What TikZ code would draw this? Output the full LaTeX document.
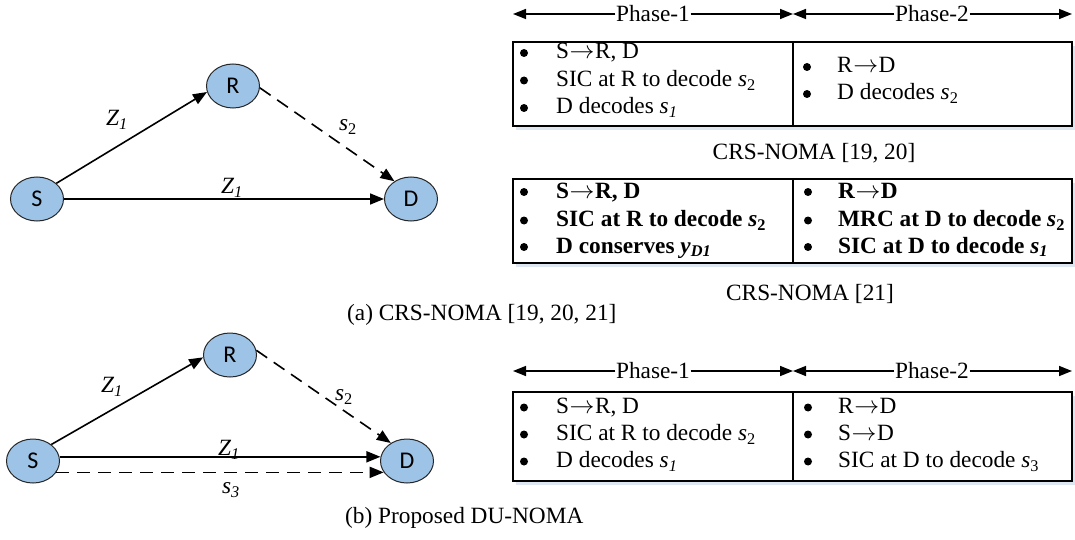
\documentclass[tikz,border=0pt]{standalone}
\usepackage{fontspec}
\setmainfont{Liberation Serif}
\newfontfamily\stationfont{Carlito}
\usetikzlibrary{arrows.meta,shapes.geometric}

\definecolor{nodefill}{RGB}{157,195,230}
\definecolor{boxshade}{RGB}{222,230,242}

\newcommand\tabfont{\fontsize{23.3}{27}\selectfont}
\newcommand\sv[2]{\textit{#1}\textsubscript{#2}}
\newcommand\svi[2]{\textit{#1\textsubscript{#2}}}
\newcommand\goes{\kern0.5pt$\rightarrow$\kern0.5pt}

\tikzset{
  station/.style={ellipse, draw=black!85, line width=1pt, fill=nodefill,
    minimum width=53pt, minimum height=44pt, inner sep=0pt,
    font=\stationfont\fontsize{24}{24}\selectfont},
  link/.style={line width=1.6pt, -{Triangle[length=14pt,width=11pt]}},
  dashlink/.style={link, dash pattern=on 13pt off 8pt},
  lbl/.style={inner sep=0pt, font=\tabfont\itshape},
  phasearrow/.style={line width=1.5pt, -{Triangle[length=13pt,width=10pt]}},
  phasetext/.style={inner sep=0.5pt, font=\tabfont},
  cellbox/.style={draw, line width=2pt},
  celldiv/.style={line width=1.5pt},
  shade/.style={fill=boxshade},
  dot/.style={circle, fill=black, inner sep=0pt, minimum size=8pt},
  item/.style={anchor=base west, inner sep=0pt, font=\tabfont},
  bolditem/.style={item, font=\tabfont\bfseries},
  caption/.style={anchor=base west, inner sep=0pt, font=\tabfont},
  title/.style={anchor=base, inner sep=0pt, font=\tabfont},
}

\begin{document}
\begin{tikzpicture}[x=1pt,y=-1pt]
\useasboundingbox (0,0) rectangle (1075,540);

% ---------- (a) relay network ----------
\node[station] (Sa) at (37,199) {S};
\node[station] (Ra) at (233,86) {R};
\node[station] (Da) at (411,199) {D};
\draw[link] (Sa.39) -- (Ra.193);
\draw[link] (Sa.east) -- (Da.west);
\draw[dashlink] (Ra.-4) -- (Da.133);
\node[lbl] (za1) at (117,120) {Z\textsubscript{1}};
\node[lbl] (za2) at (232,188) {Z\textsubscript{1}};
\node[lbl] (sa2) at (348,127) {s\textsubscript{\upshape 2}};

% ---------- (b) relay network ----------
\node[station] (Sb) at (33,461) {S};
\node[station] (Rb) at (230,355) {R};
\node[station] (Db) at (407,461) {D};
\draw[link] (Sb.42) -- (Rb.185);
\draw[link] (Sb.9) -- (Db.171);
\draw[dashlink] (Sb.-26) -- (Db.206);
\draw[dashlink] (Rb.10) -- (Db.132);
\node[lbl] (zb1) at (112,387) {Z\textsubscript{1}};
\node[lbl] (zb2) at (229,450) {Z\textsubscript{1}};
\node[lbl] (sb2) at (344,397) {s\textsubscript{\upshape 2}};
\node[lbl] (sb3) at (231,490) {s\textsubscript{3}};

% ---------- captions ----------
\node[caption] (capa) at (347,320) {(a) CRS-NOMA [19, 20, 21]};
\node[caption] (capb) at (345,523) {(b) Proposed DU-NOMA};

% ---------- phase rulers ----------
\coordinate (pa0) at (513,14);
\coordinate (pam) at (793,14);
\coordinate (pa1) at (1072,14);
\node[phasetext] (ph1a) at (653,14) {Phase-1};
\node[phasetext] (ph2a) at (932,14) {Phase-2};
\draw[phasearrow] (ph1a.west) -- (pa0);
\draw[phasearrow] (ph1a.east) -- (pam);
\draw[phasearrow] (ph2a.west) -- (pam);
\draw[phasearrow] (ph2a.east) -- (pa1);

\coordinate (pb0) at (513,371);
\coordinate (pbm) at (793,371);
\coordinate (pb1) at (1072,371);
\node[phasetext] (ph1b) at (653,371) {Phase-1};
\node[phasetext] (ph2b) at (932,371) {Phase-2};
\draw[phasearrow] (ph1b.west) -- (pb0);
\draw[phasearrow] (ph1b.east) -- (pbm);
\draw[phasearrow] (ph2b.west) -- (pbm);
\draw[phasearrow] (ph2b.east) -- (pb1);

% ---------- table: CRS-NOMA [19, 20] ----------
\fill[shade] (516,46) rectangle (1075,130);
\fill[white] (513,42) rectangle (1072,126);
\draw[cellbox] (513,42) rectangle (1072,126);
\draw[celldiv] (793,42) -- (793,126);
\foreach \y in {59,86.5,114} \node[dot] at (524,\y-6) {};
\node[item] (t1a) at (556,59) {S\goes R, D};
\node[item] (t1b) at (556,86.5) {SIC at R to decode \sv{s}{2}};
\node[item] (t1c) at (556,114) {D decodes \svi{s}{1}};
\foreach \y in {73,100} \node[dot] at (807,\y-6) {};
\node[item] (t1d) at (837,73) {R\goes D};
\node[item] (t1e) at (837,100) {D decodes \sv{s}{2}};
\node[title] (ttl1) at (814,160) {CRS-NOMA [19, 20]};

% ---------- table: CRS-NOMA [21] ----------
\fill[shade] (516,183) rectangle (1075,267);
\fill[white] (513,179) rectangle (1072,263);
\draw[cellbox] (513,179) rectangle (1072,263);
\draw[celldiv] (793,179) -- (793,263);
\foreach \y in {198,226.5,253} {
  \node[dot] at (524,\y-6) {};
  \node[dot] at (808,\y-6) {};
}
\node[bolditem] (t2a) at (556,198) {S\goes R, D};
\node[bolditem] (t2b) at (556,226.5) {SIC at R to decode \sv{s}{2}};
\node[bolditem] (t2c) at (556,253) {D conserves \svi{y}{D1}};
\node[bolditem] (t2d) at (838,198) {R\goes D};
\node[bolditem] (t2e) at (838,226.5) {MRC at D to decode \sv{s}{2}};
\node[bolditem] (t2f) at (838,253) {SIC at D to decode \svi{s}{1}};
\node[title] (ttl2) at (810,300) {CRS-NOMA [21]};

% ---------- table: proposed DU-NOMA ----------
\fill[shade] (516,396) rectangle (1075,485);
\fill[white] (513,392) rectangle (1072,481);
\draw[cellbox] (513,392) rectangle (1072,481);
\draw[celldiv] (793,392) -- (793,481);
\foreach \y in {413.5,440.5,467.5} {
  \node[dot] at (524,\y-6) {};
  \node[dot] at (808,\y-6) {};
}
\node[item] (t3a) at (556,413.5) {S\goes R, D};
\node[item] (t3b) at (556,440.5) {SIC at R to decode \sv{s}{2}};
\node[item] (t3c) at (556,467.5) {D decodes \svi{s}{1}};
\node[item] (t3d) at (838,413.5) {R\goes D};
\node[item] (t3e) at (838,440.5) {S\goes D};
\node[item] (t3f) at (838,467.5) {SIC at D to decode \sv{s}{3}};
\end{tikzpicture}
\end{document}
